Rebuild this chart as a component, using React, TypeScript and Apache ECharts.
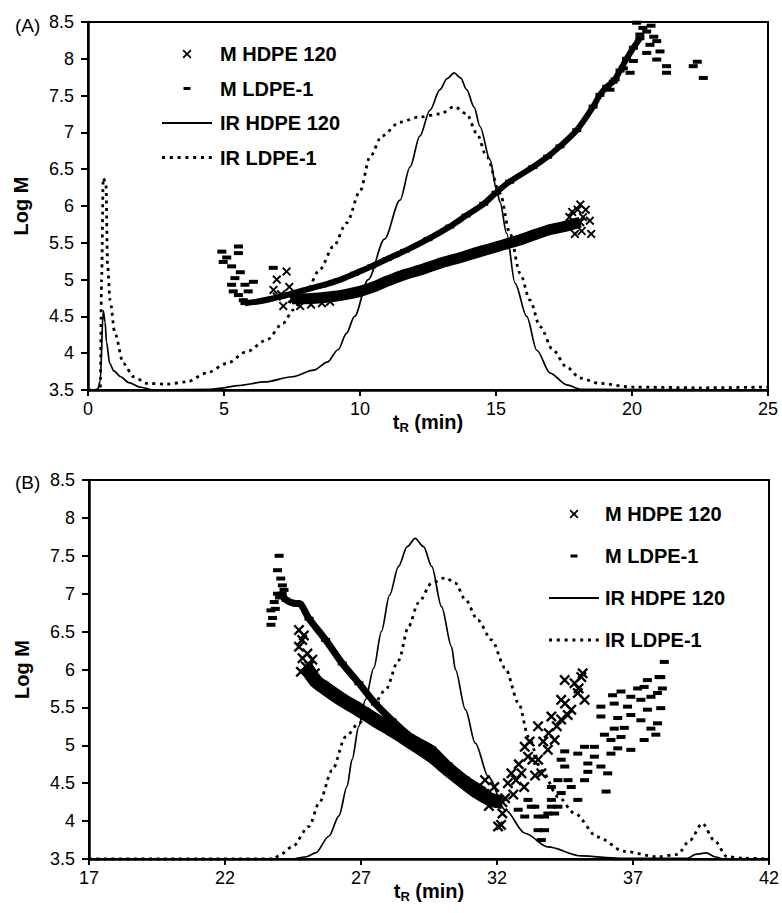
import React, { useEffect, useRef } from "react";
import * as echarts from "echarts";

// ---------- tick values ----------
const xTicksA = [0, 5, 10, 15, 20, 25];
const xTicksB = [17, 22, 27, 32, 37, 42];
const yMin = 3.5;
const yMax = 8.5;
const yStep = 0.5;

const legendNames = ["M HDPE 120", "M LDPE-1", "IR HDPE 120", "IR LDPE-1"];

// ---------- panel (A) ----------
const irHdpeA = [
  [0, 3.5], [0.35, 3.5], [0.45, 3.62], [0.56, 4.58], [0.63, 4.42], [0.68, 4.15], [0.8, 3.86],
  [0.95, 3.76], [1.2, 3.68], [1.5, 3.6], [1.9, 3.54], [2.4, 3.5], [4.5, 3.51], [5.0, 3.53],
  [5.5, 3.56], [6.5, 3.61], [7.5, 3.68], [8.3, 3.77], [8.8, 3.88], [9.2, 4.05], [9.5, 4.27],
  [9.8, 4.5], [10.3, 5.0], [10.9, 5.55], [11.47, 6.08], [11.84, 6.53], [12.2, 6.95],
  [12.57, 7.3], [12.94, 7.58], [13.2, 7.73], [13.46, 7.81], [13.7, 7.74], [13.92, 7.58],
  [14.2, 7.34], [14.41, 7.08], [14.78, 6.63], [15.02, 6.22], [15.15, 6.05], [15.39, 5.63],
  [15.7, 4.95], [16.13, 4.5], [16.5, 4.04], [16.99, 3.73], [17.6, 3.57], [18.1, 3.51], [25, 3.5],
];
const irLdpeA = [
  [0, 3.5], [0.45, 3.5], [0.5, 5.0], [0.56, 6.38], [0.66, 6.3], [0.72, 5.2], [0.81, 4.72],
  [0.99, 4.27], [1.3, 3.86], [1.68, 3.68], [2.17, 3.59], [2.89, 3.58], [3.63, 3.61],
  [4.36, 3.73], [5.1, 3.86], [5.83, 4.02], [6.57, 4.18], [7.18, 4.41], [7.55, 4.59],
  [8.04, 4.86], [8.53, 5.14], [9.02, 5.45], [9.51, 5.77], [10.0, 6.2], [10.37, 6.67],
  [10.8, 6.95], [11.47, 7.14], [12.2, 7.21], [12.94, 7.25], [13.47, 7.35], [13.92, 7.25],
  [14.29, 6.99], [14.66, 6.67], [15.15, 6.17], [15.51, 5.63], [15.88, 5.09], [16.25, 4.72],
  [16.62, 4.36], [17.1, 4.04], [17.6, 3.81], [18.1, 3.66], [18.8, 3.59], [20.0, 3.54],
  [22.5, 3.53], [25, 3.54],
];
const mHdpeBandA = [
  [7.5, 4.74], [8.0, 4.74], [8.5, 4.75], [9.0, 4.77], [9.5, 4.8], [10.0, 4.84], [10.5, 4.9],
  [11.0, 4.98], [11.65, 5.07], [12.3, 5.14], [13.0, 5.23], [13.7, 5.3], [14.4, 5.38],
  [15.15, 5.46], [15.8, 5.53], [16.5, 5.62], [17.0, 5.68], [17.5, 5.72], [17.9, 5.76], [18.1, 5.78],
];
const mHdpeDotsA = [
  [6.82, 4.86], [6.94, 5.0], [6.94, 4.77], [7.18, 4.64], [7.3, 5.11], [7.4, 4.9], [7.55, 4.73],
  [7.8, 4.64], [7.1, 4.8], [8.2, 4.66], [8.6, 4.68], [8.9, 4.7], [17.8, 5.92], [18.0, 5.95],
  [18.15, 5.66], [17.9, 5.62], [18.2, 5.85], [17.7, 5.85], [18.1, 6.02], [18.3, 5.95],
  [18.45, 5.8], [18.5, 5.62],
];
const mLdpeBandA = [
  [5.77, 4.68], [6.2, 4.7], [6.75, 4.74], [7.4, 4.8], [7.98, 4.86], [8.6, 4.92], [9.2, 4.99],
  [9.8, 5.08], [10.43, 5.18], [11.0, 5.28], [11.65, 5.39], [12.5, 5.55], [13.3, 5.72],
  [13.9, 5.87], [14.55, 6.03], [15.0, 6.18], [15.5, 6.33], [16.36, 6.53], [16.9, 6.67],
  [17.35, 6.81], [17.97, 7.03], [18.57, 7.35], [18.82, 7.51], [19.07, 7.62], [19.31, 7.69],
  [19.56, 7.84], [19.8, 8.0], [20.05, 8.15], [20.29, 8.28],
];
const mLdpeDotsA = [
  [4.92, 5.38], [5.53, 5.45], [5.53, 5.36], [4.97, 5.24], [5.28, 5.18], [5.4, 5.02],
  [6.08, 4.97], [5.28, 4.93], [5.77, 4.93], [5.34, 4.84], [5.89, 4.84], [5.53, 4.79],
  [5.71, 4.72], [6.81, 5.16], [5.1, 5.3], [5.6, 5.1], [20.17, 8.49], [20.54, 8.37],
  [20.29, 8.33], [20.91, 8.24], [20.66, 8.19], [21.03, 8.1], [20.54, 8.08], [20.91, 7.99],
  [21.27, 7.9], [21.27, 7.81], [22.25, 7.9], [22.4, 7.96], [22.62, 7.74], [20.05, 7.97],
  [19.68, 7.87], [19.93, 7.81], [19.38, 7.72], [19.19, 7.58], [20.4, 8.42], [20.8, 8.3], [20.7, 8.45],
];

// ---------- panel (B) ----------
const irHdpeB = [
  [17, 3.5], [24.5, 3.5], [25.0, 3.53], [25.33, 3.58], [25.82, 3.8], [26.19, 4.07],
  [26.49, 4.46], [26.67, 4.81], [26.92, 5.25], [27.16, 5.6], [27.47, 6.02], [27.75, 6.5],
  [28.05, 6.98], [28.38, 7.36], [28.7, 7.62], [28.99, 7.73], [29.3, 7.62], [29.6, 7.36],
  [29.96, 6.83], [30.33, 6.3], [30.47, 6.0], [30.84, 5.47], [31.2, 5.03], [31.69, 4.58],
  [32.3, 4.15], [33.03, 3.84], [33.87, 3.66], [35.1, 3.54], [36.5, 3.51], [39.0, 3.51],
  [39.3, 3.56], [39.7, 3.58], [40.0, 3.53], [40.3, 3.5], [42, 3.5],
];
const irLdpeB = [
  [17, 3.5], [23.8, 3.5], [24.0, 3.55], [24.47, 3.66], [25.09, 3.93], [25.46, 4.24],
  [25.94, 4.67], [26.43, 5.11], [26.92, 5.29], [27.41, 5.51], [27.9, 5.73], [28.38, 6.12],
  [28.75, 6.57], [29.11, 6.88], [29.6, 7.14], [30.1, 7.21], [30.47, 7.14], [30.84, 6.92],
  [31.3, 6.65], [31.8, 6.39], [32.3, 6.02], [32.8, 5.55], [33.16, 5.11], [33.64, 4.67],
  [34.25, 4.32], [34.86, 4.1], [35.7, 3.79], [36.68, 3.6], [37.9, 3.53], [38.63, 3.56],
  [39.1, 3.75], [39.55, 3.97], [39.98, 3.75], [40.46, 3.53], [41.1, 3.51], [42, 3.5],
];
const mHdpeBandB = [
  [24.97, 6.04], [25.33, 5.85], [25.7, 5.75], [26.31, 5.6], [26.92, 5.47], [27.53, 5.33],
  [28.14, 5.2], [28.8, 5.05], [29.6, 4.86], [30.2, 4.68], [30.84, 4.5], [31.3, 4.38],
  [31.8, 4.28], [32.2, 4.25],
];
const mHdpeDotsB = [
  [24.72, 6.52], [24.84, 6.39], [24.72, 6.3], [25.03, 6.21], [24.79, 5.97], [25.21, 6.13],
  [24.9, 6.45], [25.1, 6.05], [24.85, 6.15], [25.3, 5.95], [31.56, 4.54], [32.04, 3.93],
  [32.15, 3.95], [32.53, 4.63], [32.9, 4.63], [33.02, 4.98], [33.14, 4.85], [33.51, 5.25],
  [33.51, 4.81], [33.63, 4.63], [33.87, 4.94], [34.0, 5.38], [34.12, 5.07], [34.36, 5.6],
  [34.36, 5.34], [34.49, 5.86], [34.73, 5.47], [34.85, 5.82], [34.97, 5.69], [35.15, 5.95],
  [35.22, 5.6], [32.3, 4.3], [32.7, 4.54], [33.3, 4.81], [33.9, 5.16], [34.5, 5.55],
  [35.1, 5.9], [31.9, 4.45], [32.2, 4.1], [32.6, 4.35], [33.0, 4.45], [33.4, 4.6], [31.7, 4.2],
  [32.4, 4.5], [33.7, 5.05], [34.2, 5.25], [34.6, 5.4], [35.0, 5.75], [32.8, 4.75], [33.2, 5.05],
];
const mLdpeBandB = [
  [24.1, 7.0], [24.24, 6.92], [24.6, 6.87], [24.72, 6.87], [25.09, 6.67], [25.7, 6.39],
  [26.31, 6.08], [26.92, 5.82], [27.53, 5.55], [28.14, 5.33], [28.8, 5.12], [29.6, 4.96],
  [30.2, 4.75], [30.84, 4.56], [31.55, 4.4],
];
const mLdpeDotsB = [
  [23.99, 7.5], [23.93, 7.31], [24.05, 7.2], [24.11, 7.11], [23.93, 7.0], [23.81, 6.89],
  [23.69, 6.78], [23.75, 6.68], [23.69, 6.59], [24.17, 7.05], [24.0, 6.95], [23.85, 6.8],
  [38.15, 6.1], [37.96, 5.9], [37.53, 5.86], [38.08, 5.75], [37.17, 5.75], [36.56, 5.71],
  [36.25, 5.66], [36.92, 5.64], [37.66, 5.64], [37.29, 5.6], [35.82, 5.51], [36.31, 5.55],
  [36.8, 5.51], [38.02, 5.49], [37.53, 5.47], [35.82, 5.38], [36.44, 5.36], [36.92, 5.4],
  [37.29, 5.33], [37.9, 5.29], [36.31, 5.22], [36.68, 5.23], [37.66, 5.22], [35.95, 5.14],
  [36.56, 5.11], [37.84, 5.14], [36.19, 5.07], [37.41, 5.07], [35.22, 4.98], [35.58, 4.98],
  [36.44, 4.96], [36.92, 4.94], [34.97, 4.89], [35.58, 4.85], [36.19, 4.89], [35.34, 4.76],
  [35.82, 4.72], [36.07, 4.63], [34.36, 4.81], [34.49, 4.72], [35.34, 4.65], [34.61, 4.54],
  [34.73, 4.45], [35.22, 4.54], [34.36, 4.37], [34.97, 4.28], [34.0, 4.28], [34.24, 4.19],
  [33.87, 4.1], [33.51, 4.06], [33.75, 3.88], [33.39, 4.19], [33.14, 4.28], [36.01, 4.39],
  [34.24, 4.54], [34.0, 4.45], [34.49, 4.92], [32.78, 4.15], [33.02, 4.06], [33.26, 4.19],
  [33.51, 3.88], [33.63, 3.75], [33.75, 4.06], [34.0, 4.19], [34.12, 4.1], [38.02, 5.9],
  [37.41, 5.77], [37.9, 5.69],
];

// ---------- styling ----------
const FONT = "Arial, 'Liberation Sans', Helvetica, sans-serif";
const BLACK = "#000";
const CROSS =
  "path://M1.5,0L5,3.5L8.5,0L10,1.5L6.5,5L10,8.5L8.5,10L5,6.5L1.5,10L0,8.5L3.5,5L0,1.5Z";
// tiny corner specks fix the icon's bounding box to 50 x 14
const SPECKS = "M0,0L0.05,0L0.05,0.05L0,0.05Z M49.95,13.95L50,13.95L50,14L49.95,14Z ";
const LEG_CROSS =
  "path://" +
  SPECKS +
  "M21.85,2.5L25,5.65L28.15,2.5L29.5,3.85L26.35,7L29.5,10.15L28.15,11.5L25,8.35L21.85,11.5L20.5,10.15L23.65,7L20.5,3.85Z";
const LEG_DASH = "path://" + SPECKS + "M21.5,5.5L28.5,5.5L28.5,8.5L21.5,8.5Z";
const LEG_SOLID = "path://" + SPECKS + "M0,6.1L50,6.1L50,7.9L0,7.9Z";
const LEG_DOTS =
  "path://" +
  SPECKS +
  [0, 7.8, 15.6, 23.4, 31.2, 39, 46.8]
    .map((x) => `M${x},5.6L${x + 3},5.6L${x + 3},8.4L${x},8.4Z`)
    .join(" ");

function panelSeries(
  gi: number,
  irH: number[][],
  irL: number[][],
  hBand: number[][],
  hDots: number[][],
  lBand: number[][],
  lDots: number[][],
  hWidth: number,
  lWidth: number,
  crossSize: number
) {
  const base = { xAxisIndex: gi, yAxisIndex: gi, animation: false };
  return [
    {
      ...base,
      type: "line",
      name: "M HDPE 120",
      data: hBand,
      smooth: 0.3,
      symbol: CROSS,
      symbolSize: crossSize,
      showSymbol: true,
      showAllSymbol: true,
      itemStyle: { color: BLACK, opacity: 1 },
      lineStyle: { color: BLACK, width: hWidth },
      z: 2,
    },
    {
      ...base,
      type: "scatter",
      name: "M HDPE 120",
      data: hDots,
      symbol: CROSS,
      symbolSize: crossSize,
      itemStyle: { color: BLACK, opacity: 1 },
      z: 2,
    },
    {
      ...base,
      type: "line",
      name: "M LDPE-1",
      data: lBand,
      smooth: 0.3,
      symbol: "rect",
      symbolSize: [9, 4],
      showSymbol: true,
      showAllSymbol: true,
      itemStyle: { color: BLACK, opacity: 1 },
      lineStyle: { color: BLACK, width: lWidth },
      z: 2,
    },
    {
      ...base,
      type: "scatter",
      name: "M LDPE-1",
      data: lDots,
      symbol: "rect",
      symbolSize: [9, 4],
      itemStyle: { color: BLACK, opacity: 1 },
      z: 2,
    },
    {
      ...base,
      type: "line",
      name: "IR HDPE 120",
      data: irH,
      smooth: 0.3,
      smoothMonotone: "x",
      symbol: "none",
      itemStyle: { color: BLACK },
      lineStyle: { color: BLACK, width: 1.7 },
      z: 3,
    },
    {
      ...base,
      type: "line",
      name: "IR LDPE-1",
      data: irL,
      smooth: 0.3,
      smoothMonotone: "x",
      symbol: "none",
      itemStyle: { color: BLACK },
      lineStyle: { color: BLACK, width: 2.8, type: [3, 4.5] },
      z: 3,
    },
  ];
}

function xAxisCfg(gi: number, min: number, max: number, ticks: number[]) {
  return {
    gridIndex: gi,
    type: "value",
    min,
    max,
    axisLine: { show: true, onZero: false, lineStyle: { color: BLACK, width: 2.5 } },
    axisTick: { show: true, length: 6, customValues: ticks, lineStyle: { color: BLACK, width: 2 } },
    axisLabel: {
      customValues: ticks,
      color: BLACK,
      fontSize: 18,
      fontFamily: FONT,
      margin: 10,
    },
    splitLine: { show: false },
    name: "{t|t}{s|R}{t| (min)}",
    nameLocation: "middle",
    nameGap: 20,
    nameMoveOverlap: false,
    nameTextStyle: {
      color: BLACK,
      fontFamily: FONT,
      rich: {
        t: { fontSize: 20, fontWeight: "bold", fontFamily: FONT, color: BLACK },
        s: {
          fontSize: 13,
          fontWeight: "bold",
          fontFamily: FONT,
          color: BLACK,
          padding: [11, 0, 0, 0],
        },
      },
    },
  };
}

function yAxisCfg(gi: number) {
  return {
    gridIndex: gi,
    type: "value",
    min: yMin,
    max: yMax,
    interval: yStep,
    axisLine: { show: true, onZero: false, lineStyle: { color: BLACK, width: 2.5 } },
    axisTick: { show: true, length: 7, lineStyle: { color: BLACK, width: 2 } },
    axisLabel: { color: BLACK, fontSize: 18, fontFamily: FONT, margin: 14 },
    splitLine: { show: false },
    name: "Log M",
    nameLocation: "middle",
    nameGap: 57,
    nameMoveOverlap: false,
    nameTextStyle: { color: BLACK, fontSize: 20, fontWeight: "bold", fontFamily: FONT },
  };
}

function legendCfg(left: number, top: number, gap: number, pad: number) {
  return {
    left,
    top,
    padding: 0,
    orient: "vertical",
    itemWidth: 50,
    itemHeight: 14,
    itemGap: gap,
    selectedMode: false,
    symbolKeepAspect: true,
    data: [
      { name: legendNames[0], icon: LEG_CROSS },
      { name: legendNames[1], icon: LEG_DASH },
      { name: legendNames[2], icon: LEG_SOLID },
      { name: legendNames[3], icon: LEG_DOTS },
    ],
    itemStyle: { color: BLACK, opacity: 1 },
    textStyle: {
      color: BLACK,
      fontSize: 20,
      fontWeight: "bold",
      fontFamily: FONT,
      padding: [0, 0, 0, pad],
    },
  };
}

export default function App() {
  const ref = useRef<HTMLDivElement>(null);

  useEffect(() => {
    if (!ref.current) return;
    const chart = echarts.init(ref.current, null, { renderer: "svg" });
    chart.setOption({
      animation: false,
      backgroundColor: "#fff",
      textStyle: { fontFamily: FONT },
      grid: [
        { left: 88, top: 22, width: 680, height: 368, show: true, borderColor: BLACK, borderWidth: 2, backgroundColor: "transparent" },
        { left: 89, top: 480, width: 683, height: 379, show: true, borderColor: BLACK, borderWidth: 2, backgroundColor: "transparent" },
      ],
      xAxis: [
        { ...xAxisCfg(0, xTicksA[0], xTicksA[xTicksA.length - 1], xTicksA) },
        { ...xAxisCfg(1, xTicksB[0], xTicksB[xTicksB.length - 1], xTicksB) },
      ],
      yAxis: [yAxisCfg(0), yAxisCfg(1)],
      legend: [legendCfg(162, 44, 14.5, 3), legendCfg(549, 504, 22, 1)],
      graphic: [
        { type: "text", left: 15, top: 16, style: { text: "(A)", fontSize: 19, fontFamily: FONT, fill: BLACK } },
        { type: "text", left: 15, top: 473, style: { text: "(B)", fontSize: 19, fontFamily: FONT, fill: BLACK } },
      ],
      series: [
        ...panelSeries(0, irHdpeA, irLdpeA, mHdpeBandA, mHdpeDotsA, mLdpeBandA, mLdpeDotsA, 11, 6, 9),
        ...panelSeries(1, irHdpeB, irLdpeB, mHdpeBandB, mHdpeDotsB, mLdpeBandB, mLdpeDotsB, 14, 7, 11),
      ],
    });
    return () => chart.dispose();
  }, []);

  return (
    <div
      ref={ref}
      style={{ position: "absolute", left: 0, top: 0, width: 782, height: 913, background: "#fff" }}
    />
  );
}
